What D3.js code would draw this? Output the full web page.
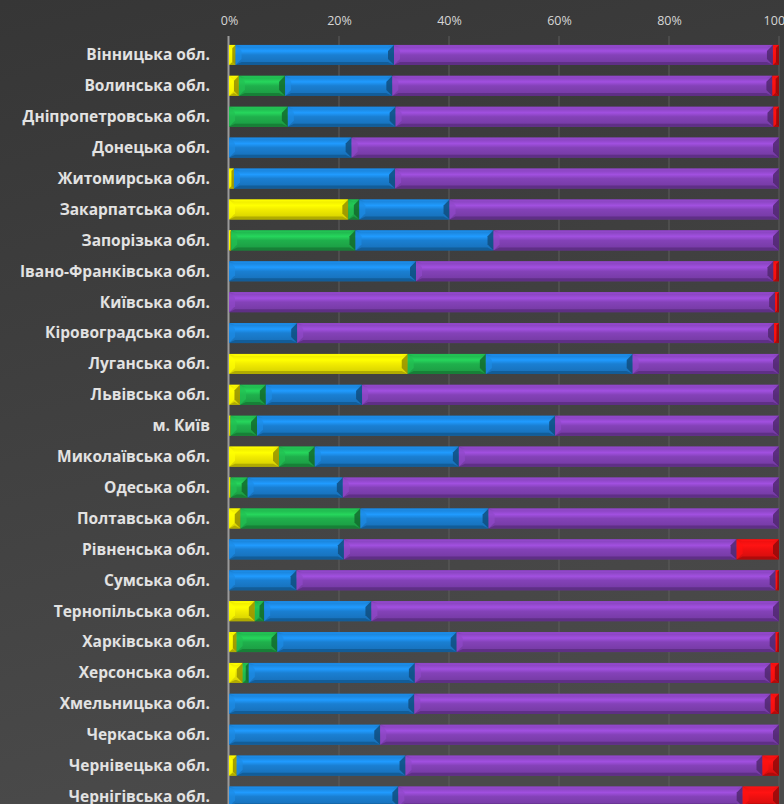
<!DOCTYPE html>
<html>
<head>
<meta charset="utf-8">
<script src="https://cdn.jsdelivr.net/npm/d3@7"></script>
<style>
  html, body { margin: 0; padding: 0; background: #3c3c3c; }
  svg { display: block; }
</style>
</head>
<body>
<svg id="chart" width="784" height="804"></svg>
<script>
const categories = [
  "Вінницька обл.", "Волинська обл.", "Дніпропетровська обл.", "Донецька обл.",
  "Житомирська обл.", "Закарпатська обл.", "Запорізька обл.", "Івано-Франківська обл.",
  "Київська обл.", "Кіровоградська обл.", "Луганська обл.", "Львівська обл.",
  "м. Київ", "Миколаївська обл.", "Одеська обл.", "Полтавська обл.",
  "Рівненська обл.", "Сумська обл.", "Тернопільська обл.", "Харківська обл.",
  "Херсонська обл.", "Хмельницька обл.", "Черкаська обл.", "Чернівецька обл.",
  "Чернігівська обл."
];
const seriesNames = ["Серія 1", "Серія 2", "Серія 3", "Серія 4", "Серія 5"];
const yellowValues = [1.2, 1.8, 0, 0, 0.9, 21.7, 0.4, 0, 0, 0, 32.5, 2.0, 0.3, 9.1, 0.3, 2.1, 0, 0, 4.7, 1.4, 2.5, 0, 0, 1.4, 0];
const greenValues  = [0, 8.4, 10.7, 0, 0, 2.0, 22.6, 0, 0, 0, 14.2, 4.7, 4.8, 6.5, 3.1, 21.8, 0, 0, 1.7, 7.4, 1.1, 0, 0, 0, 0];
const blueValues   = [28.8, 19.5, 19.6, 22.3, 29.3, 16.4, 25.1, 34.0, 0, 12.4, 26.7, 17.5, 54.2, 26.2, 17.3, 23.3, 20.9, 12.3, 19.5, 32.6, 30.2, 33.7, 27.5, 30.7, 30.8];
const purpleValues = [68.9, 69.1, 68.7, 77.7, 69.8, 59.9, 51.9, 65.0, 99.3, 86.7, 26.6, 75.8, 40.7, 58.2, 79.3, 52.8, 71.4, 87.1, 74.1, 58.0, 64.7, 64.8, 72.5, 64.9, 62.6];
const redValues    = [1.1, 1.2, 1.0, 0, 0, 0, 0, 1.0, 0.7, 0.9, 0, 0, 0, 0, 0, 0, 7.7, 0.6, 0, 0.6, 1.5, 1.5, 0, 3.0, 6.6];
const tickValues = [0, 20, 40, 60, 80, 100];

const seriesColors = ["#f2ec00", "#1fb04c", "#1a7fd2", "#8442b8", "#f01010"];
const seriesValues = [yellowValues, greenValues, blueValues, purpleValues, redValues];

const table = categories.map((c, i) => {
  const row = { category: c };
  seriesNames.forEach((s, k) => { row[s] = seriesValues[k][i]; });
  return row;
});

const svg = d3.select("#chart");
const W = 784, H = 804;

const defs = svg.append("defs");
const bg = defs.append("linearGradient").attr("id", "bg")
  .attr("x1", "0").attr("y1", "0").attr("x2", "0.25").attr("y2", "1");
bg.append("stop").attr("offset", "0").attr("stop-color", "#363636");
bg.append("stop").attr("offset", "1").attr("stop-color", "#4a4a4a");
svg.append("rect").attr("width", W).attr("height", H).attr("fill", "url(#bg)");

seriesColors.forEach((col, k) => {
  const c = d3.color(col);
  const g = defs.append("linearGradient").attr("id", "face" + k)
    .attr("x1", 0).attr("y1", 0).attr("x2", 0).attr("y2", 1);
  g.append("stop").attr("offset", "0").attr("stop-color", c.darker(0.1));
  g.append("stop").attr("offset", "0.3").attr("stop-color", c.brighter(0.55));
  g.append("stop").attr("offset", "0.5").attr("stop-color", c);
  g.append("stop").attr("offset", "1").attr("stop-color", c.darker(0.4));
});

const x = d3.scaleLinear().domain([0, 100]).range([229, 779]);
const y = d3.scaleBand().domain(categories).range([39.5, 39.5 + 25 * 30.9])
  .paddingInner(0.35).paddingOuter(0.175);

svg.append("g").selectAll("line").data(tickValues.slice(1)).join("line")
  .attr("x1", d => x(d)).attr("x2", d => x(d))
  .attr("y1", 36).attr("y2", H)
  .attr("stroke", "#5c5c5c").attr("stroke-width", 1);

const axis = svg.append("g").attr("transform", "translate(0,27)")
  .call(d3.axisTop(x).tickValues(tickValues).tickFormat(d => d + "%").tickSize(0).tickPadding(0));
axis.select(".domain").remove();
axis.selectAll("text")
  .attr("fill", "#d6d6d6")
  .attr("font-family", "'Open Sans', 'Noto Sans', sans-serif")
  .attr("font-size", 12.5)
  .attr("dy", "-0.2em");

svg.append("line").attr("x1", 228.5).attr("x2", 228.5).attr("y1", 36).attr("y2", H)
  .attr("stroke", "#9a9a9a").attr("stroke-width", 2);

const stacked = d3.stack().keys(seriesNames)(table);

const gBars = svg.append("g");
stacked.forEach((layer, k) => {
  const c = d3.color(seriesColors[k]);
  const g = gBars.append("g");
  layer.forEach((d, i) => {
    if (d[1] - d[0] <= 0) return;
    const x0 = x(d[0]), x1 = x(d[1]);
    const yy = y(categories[i]), h = y.bandwidth();
    const w = x1 - x0;
    const b = Math.min(6, w / 2, h / 2);
    const seg = g.append("g");
    seg.append("rect").attr("x", x0).attr("y", yy).attr("width", w).attr("height", h)
      .attr("fill", "url(#face" + k + ")");
    seg.append("polygon").attr("points", [[x0, yy], [x1, yy], [x1 - b, yy + 2], [x0 + b, yy + 2]].join(" "))
      .attr("fill", c.brighter(0.3)).attr("opacity", 0.8);
    seg.append("polygon").attr("points", [[x0, yy + h], [x1, yy + h], [x1 - b, yy + h - 3], [x0 + b, yy + h - 3]].join(" "))
      .attr("fill", c.darker(1.0)).attr("opacity", 0.85);
    seg.append("polygon").attr("points", [[x0, yy], [x0 + b, yy + b], [x0 + b, yy + h - b], [x0, yy + h]].join(" "))
      .attr("fill", c.brighter(0.25)).attr("opacity", 0.7);
    seg.append("polygon").attr("points", [[x1, yy], [x1 - b, yy + b], [x1 - b, yy + h - b], [x1, yy + h]].join(" "))
      .attr("fill", c.darker(1.4)).attr("opacity", 0.85);
  });
});

svg.append("g").selectAll("text").data(categories).join("text")
  .attr("x", 210)
  .attr("y", d => y(d) + y.bandwidth() / 2)
  .attr("dy", "0.35em")
  .attr("text-anchor", "end")
  .attr("fill", "#e2e2e2")
  .attr("font-family", "'Open Sans', 'Noto Sans', sans-serif")
  .attr("font-weight", "bold")
  .attr("font-size", 15.5)
  .text(d => d);
</script>
</body>
</html>
